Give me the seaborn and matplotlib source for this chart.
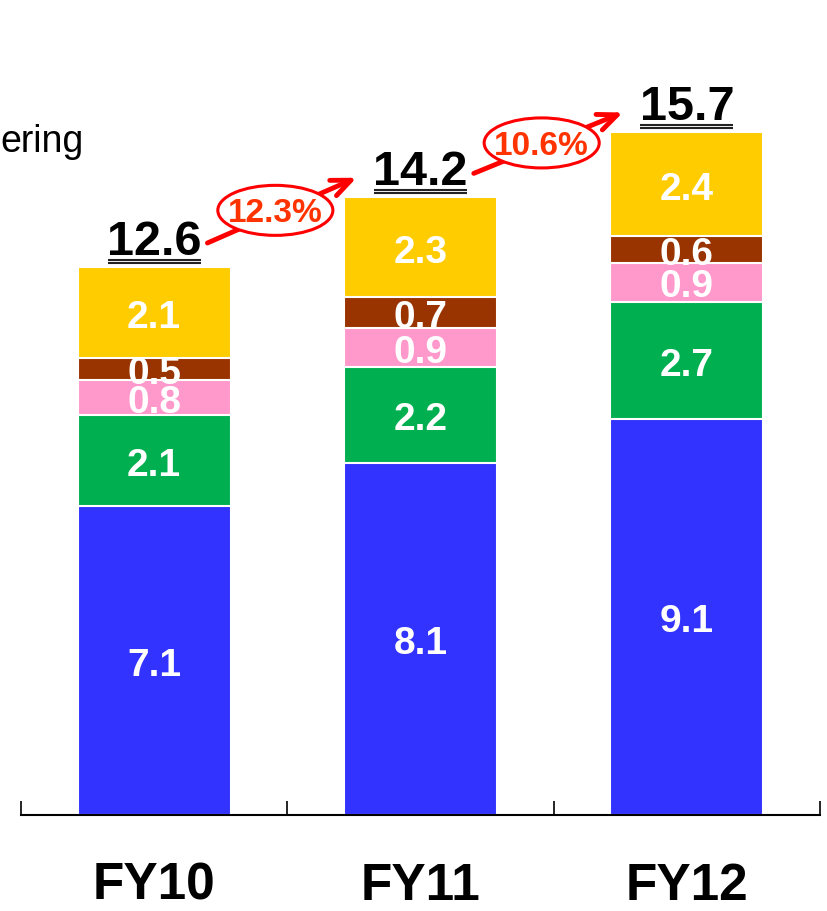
import numpy as np
import matplotlib
matplotlib.use('Agg')
import matplotlib.pyplot as plt
from matplotlib.patches import Ellipse
import seaborn as sns

# data, bottom segment first
years = ['FY10', 'FY11', 'FY12']
blue = [7.1, 8.1, 9.1]
green = [2.1, 2.2, 2.7]
pink = [0.8, 0.9, 0.9]
brown = [0.5, 0.7, 0.6]
yellow = [2.1, 2.3, 2.4]
totals = [12.6, 14.2, 15.7]
growth = ['12.3%', '10.6%']

layers = [blue, green, pink, brown, yellow]
colors = ['#3333FF', '#00B050', '#FF99CC', '#993300', '#FFCC00']

sns.set_style('white')
plt.rcParams['font.family'] = ['Liberation Sans', 'DejaVu Sans']
plt.rcParams['text.color'] = 'black'
plt.rcParams['xtick.color'] = 'black'

fig = plt.figure(figsize=(8.27, 9.12), dpi=100)
ax = fig.add_axes([21/827, 96/912, 799/827, 816/912])

vals = np.array(layers)
cum = np.cumsum(vals, axis=0)
bottoms = cum - vals

# stacked bars: draw cumulative heights from the top layer down
for k in range(len(layers) - 1, -1, -1):
    sns.barplot(x=years, y=cum[k], color=colors[k], saturation=1, width=0.575,
                edgecolor='white', linewidth=1.5, errorbar=None, ax=ax)

# segment labels
for k in range(len(layers)):
    for i in range(len(years)):
        ax.text(i, bottoms[k][i] + vals[k][i] / 2 - 0.1, f'{vals[k][i]:.1f}',
                ha='center', va='center', color='white', fontsize=28,
                fontweight='bold', zorder=4)

# totals with double underline
for i, t in enumerate(totals):
    ax.text(i, t + 0.3, f'{t:.1f}', ha='center', va='baseline',
            fontsize=35, fontweight='bold', color='black', zorder=4)
    for off in (0.17, 0.10):
        ax.plot([i - 0.175, i + 0.175], [t + off, t + off], color='#222222',
                lw=1.5, solid_capstyle='butt', zorder=4)

# growth arrows
for i, g in enumerate(growth):
    x0, y0 = i + 0.2, totals[i] + 0.55
    x1, y1 = i + 0.76, totals[i + 1] + 0.45
    ax.annotate('', xy=(x1, y1), xytext=(x0, y0),
                arrowprops=dict(arrowstyle='->,head_length=1.4,head_width=0.6',
                                color='red', lw=3.5, shrinkA=0, shrinkB=0),
                zorder=5)
    xm, ym = (x0 + x1) / 2 - 0.025, (y0 + y1) / 2
    ax.add_patch(Ellipse((xm, ym), 0.432, 1.15, facecolor='white',
                         edgecolor='red', lw=2.2, zorder=6))
    ax.text(xm, ym - 0.05, g, ha='center', va='center', color='#FF3300',
            fontsize=24, fontweight='bold', zorder=7)

ax.set_xlim(-0.5, 2.5)
ax.set_ylim(0, 816 / 43.5)
for s in ['left', 'top', 'right']:
    ax.spines[s].set_visible(False)
ax.spines['bottom'].set_color('black')
ax.spines['bottom'].set_linewidth(1.5)
ax.set_yticks([])
ax.set_xticks([0, 1, 2])
ax.set_xticklabels(years)
ax.set_xticks([-0.5, 0.5, 1.5, 2.5], minor=True)
ax.tick_params(axis='x', which='major', bottom=True, length=0, pad=33,
               labelsize=37, labelcolor='black')
ax.tick_params(axis='x', which='minor', bottom=True, direction='in',
               length=10, width=1.2, color='black')
for lab in ax.get_xticklabels():
    lab.set_fontweight('bold')
ax.set_xlabel('')
ax.set_ylabel('')

fig.text(0, 1 - 152 / 912, 'ering', fontsize=27, ha='left', va='baseline',
         color='black')

fig.savefig('out.png', dpi=100)
